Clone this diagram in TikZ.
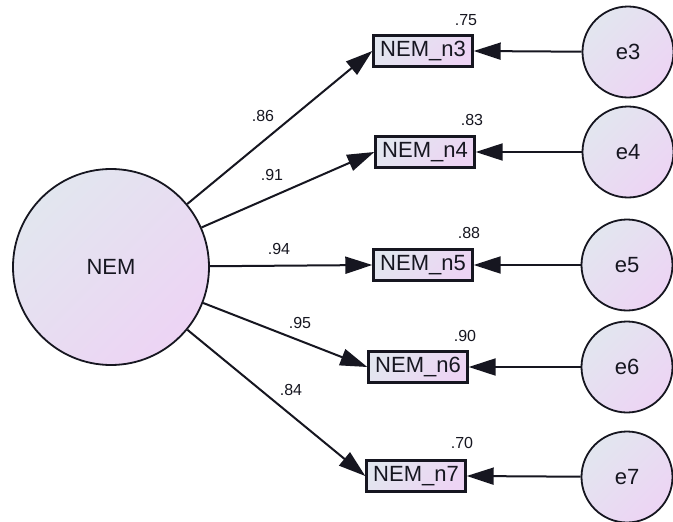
\documentclass[tikz,border=0pt]{standalone}
\usepackage{fontspec}
\setmainfont{Liberation Sans}
\usetikzlibrary{arrows.meta}
\definecolor{fillA}{HTML}{E2E6EF}
\definecolor{fillB}{HTML}{EDD4F4}
\definecolor{inkc}{HTML}{161620}
\tikzset{
  x=1pt, y=-1pt,
  shade base/.style={top color=fillA, bottom color=fillB, shading angle=45},
  latent/.style={circle, draw=inkc, line width=1.8pt, shade base, inner sep=0pt,
    minimum size=196pt, font=\fontsize{22}{26}\selectfont, text=inkc},
  errvar/.style={circle, draw=inkc, line width=1.8pt, shade base, inner sep=0pt,
    minimum size=91pt, font=\fontsize{22}{26}\selectfont, text=inkc},
  observed/.style={rectangle, draw=inkc, line width=2.4pt, shade base, inner sep=0pt,
    minimum width=99pt, minimum height=31pt, font=\fontsize{22}{26}\selectfont, text=inkc},
  coef/.style={font=\fontsize{16}{18}\selectfont, text=inkc, inner sep=0pt},
  path/.style={draw=inkc, line width=2pt, -{Triangle[length=27pt, width=17pt]}},
}
\begin{document}
\begin{tikzpicture}
\useasboundingbox (0,0) rectangle (673,522);
\fill[white] (0,0) rectangle (673,522);

% latent factor
\node[latent] (nem) at (111,267) {NEM};

% indicators
\node[observed] (n3) at (423,51)  {NEM\_n3};
\node[observed] (n4) at (425,152) {NEM\_n4};
\node[observed] (n5) at (423,265) {NEM\_n5};
\node[observed] (n6) at (418,367) {NEM\_n6};
\node[observed] (n7) at (416,476) {NEM\_n7};

% error terms
\node[errvar] (e3) at (628,52)  {e3};
\node[errvar] (e4) at (628,152) {e4};
\node[errvar] (e5) at (627,265) {e5};
\node[errvar] (e6) at (627,367) {e6};
\node[errvar] (e7) at (627,477) {e7};

% loadings: from the factor centre to the left side of each indicator
\draw[path] (nem) -- (n3.west);
\draw[path] (nem) -- (n4.west);
\draw[path] (nem) -- (n5.west);
\draw[path] (nem) -- (n6.west);
\draw[path] (nem) -- (n7.west);

% error paths
\draw[path] (e3) -- (n3.east);
\draw[path] (e4) -- (n4.east);
\draw[path] (e5) -- (n5.east);
\draw[path] (e6) -- (n6.east);
\draw[path] (e7) -- (n7.east);

% standardized loadings
\node[coef] (l3) at (263,116) {.86};
\node[coef] (l4) at (272,175) {.91};
\node[coef] (l5) at (279,249) {.94};
\node[coef] (l6) at (300,323) {.95};
\node[coef] (l7) at (291,390) {.84};

% squared multiple correlations
\node[coef] (r3) at (466,20)  {.75};
\node[coef] (r4) at (472,120) {.83};
\node[coef] (r5) at (469,233) {.88};
\node[coef] (r6) at (465,336) {.90};
\node[coef] (r7) at (462,443) {.70};
\end{tikzpicture}
\end{document}
